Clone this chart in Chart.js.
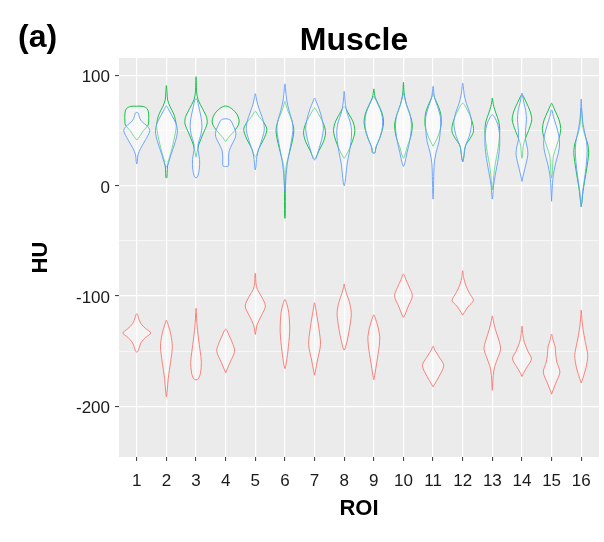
<!DOCTYPE html>
<html><head><meta charset="utf-8">
<script src="https://cdn.jsdelivr.net/npm/chart.js@4.4.1/dist/chart.umd.min.js"></script>
<style>html,body{margin:0;padding:0;background:#fff}</style>
</head>
<body>
<canvas id="c" width="604" height="542"></canvas>
<script>
// ---- DATA ----
const roiValues = [1,2,3,4,5,6,7,8,9,10,11,12,13,14,15,16];
const yTickValues = [-200,-150,-100,-50,0,50,100];
const yLabelledTicks = [-200,-100,0,100];
const seriesNames = ['Series 1','Series 2','Series 3'];

// Each violin profile: [HU, half-width in ROI units], from bottom to top
const redViolins = [
  [[-151,0],[-150,0.04],[-147,0.08],[-142,0.15],[-137.5,0.3],[-133.5,0.47],[-129.5,0.3],[-125,0.14],[-120,0.06],[-117,0.03],[-116,0]],
  [[-191.5,0],[-188,0.02],[-175,0.06],[-160,0.14],[-146,0.2],[-135,0.15],[-127,0.07],[-123,0.02],[-121.8,0]],
  [[-176,0],[-175,0.08],[-170,0.15],[-160,0.18],[-150,0.14],[-138,0.08],[-125,0.03],[-115,0.01],[-111,0]],
  [[-169.7,0],[-167,0.04],[-160,0.15],[-150,0.3],[-142,0.22],[-136,0.12],[-131,0.04],[-130,0]],
  [[-134.8,0],[-132,0.02],[-126,0.06],[-118,0.2],[-109,0.34],[-100,0.2],[-94,0.07],[-88,0.02],[-80,0.01],[-79.4,0]],
  [[-165.8,0],[-163,0.03],[-150,0.1],[-132,0.16],[-115,0.13],[-107,0.06],[-103,0]],
  [[-171.8,0],[-168,0.03],[-158,0.1],[-144,0.2],[-130,0.15],[-118,0.08],[-110,0.03],[-106,0]],
  [[-149,0],[-147,0.04],[-138,0.12],[-126,0.2],[-115,0.24],[-105,0.17],[-97,0.07],[-92,0.02],[-89,0]],
  [[-175.8,0],[-172,0.03],[-160,0.1],[-146,0.18],[-137,0.2],[-128,0.14],[-120,0.05],[-117,0]],
  [[-119.4,0],[-117,0.05],[-110,0.15],[-100,0.3],[-92,0.2],[-85,0.08],[-81,0.03],[-80,0]],
  [[-182.4,0],[-180,0.05],[-173,0.2],[-163,0.36],[-155,0.2],[-149,0.06],[-145.5,0]],
  [[-117.3,0],[-115,0.05],[-109,0.2],[-104,0.36],[-97,0.22],[-90,0.1],[-83,0.03],[-77,0]],
  [[-185.5,0],[-182,0.01],[-172,0.03],[-164,0.08],[-155,0.2],[-148,0.28],[-140,0.22],[-130,0.1],[-122,0.03],[-118,0]],
  [[-173,0],[-170,0.05],[-164,0.18],[-157,0.32],[-150,0.2],[-142,0.08],[-135,0.03],[-127.3,0]],
  [[-189,0],[-186,0.04],[-179,0.14],[-169,0.28],[-160,0.18],[-153,0.14],[-146,0.12],[-140,0.05],[-134.5,0]],
  [[-178.8,0],[-175,0.05],[-165,0.16],[-154,0.22],[-142,0.14],[-130,0.06],[-120,0.02],[-112.7,0]]
];
const greenViolins = [
  [[41.5,0],[45,0.1],[50,0.22],[55,0.38],[58,0.4],[66,0.4],[70,0.35],[72,0.22],[72.3,0]],
  [[7,0],[8,0.02],[15,0.03],[22,0.06],[30,0.15],[45,0.28],[55,0.33],[65,0.25],[72,0.12],[78,0.04],[85,0.02],[91,0]],
  [[26,0],[30,0.03],[38,0.1],[48,0.25],[56,0.37],[62,0.36],[70,0.22],[78,0.07],[85,0.02],[99,0]],
  [[40,0],[44,0.1],[50,0.3],[56,0.44],[60,0.45],[65,0.38],[69,0.25],[71.5,0.12],[72.5,0]],
  [[26.5,0],[28,0.05],[33,0.1],[42,0.28],[51,0.39],[57,0.3],[63,0.12],[67,0.03],[67.6,0]],
  [[-29.5,0],[-28,0.01],[0,0.015],[15,0.03],[22,0.07],[35,0.2],[50,0.3],[60,0.22],[68,0.1],[74,0.03],[76.7,0]],
  [[24,0],[26,0.05],[32,0.15],[40,0.3],[48,0.37],[55,0.32],[63,0.18],[68,0.07],[70.6,0]],
  [[25,0],[27,0.05],[35,0.2],[45,0.33],[51,0.36],[58,0.3],[65,0.16],[70,0.06],[72,0]],
  [[29.7,0],[31,0.05],[36,0.08],[42,0.18],[50,0.28],[58,0.33],[66,0.28],[74,0.15],[80,0.05],[84,0.02],[88,0]],
  [[25,0],[27,0.04],[35,0.12],[45,0.25],[55,0.3],[62,0.25],[70,0.14],[78,0.06],[85,0.02],[94,0]],
  [[36,0],[40,0.08],[46,0.18],[55,0.27],[65,0.26],[72,0.18],[78,0.08],[82,0.02],[84,0]],
  [[22,0],[25,0.03],[32,0.06],[37,0.1],[43,0.25],[49,0.36],[55,0.35],[62,0.27],[69,0.15],[73,0.07],[75,0]],
  [[-3.6,0],[0,0.02],[10,0.05],[20,0.1],[35,0.2],[50,0.25],[58,0.22],[66,0.12],[72,0.05],[76,0.02],[79.7,0]],
  [[25,0],[28,0.02],[36,0.04],[42,0.1],[50,0.22],[60,0.33],[68,0.27],[76,0.14],[81,0.05],[82.7,0]],
  [[7,0],[10,0.02],[20,0.04],[27,0.06],[35,0.15],[45,0.27],[52,0.31],[60,0.25],[68,0.12],[73,0.04],[75,0]],
  [[-18.8,0],[-15,0.02],[-5,0.06],[10,0.15],[22,0.22],[30,0.25],[38,0.22],[46,0.12],[55,0.04],[65,0.02],[70.6,0]]
];
const blueViolins = [
  [[20,0],[22,0.02],[28,0.04],[34,0.13],[42,0.3],[50,0.44],[54,0.36],[59,0.15],[63,0.08],[66,0.05],[66.7,0]],
  [[17,0],[19,0.05],[28,0.15],[40,0.3],[49,0.37],[56,0.33],[63,0.2],[69,0.08],[72.5,0]],
  [[7,0],[9,0.06],[15,0.11],[24,0.12],[32,0.07],[38,0.07],[46,0.16],[54,0.2],[62,0.17],[72,0.09],[78,0.04],[79,0]],
  [[17.6,0],[17.8,0.08],[19,0.1],[26,0.1],[32,0.12],[38,0.22],[45,0.34],[50,0.33],[55,0.25],[59,0.18],[60.5,0.1],[60.8,0]],
  [[14.5,0],[17,0.02],[24,0.04],[30,0.08],[40,0.2],[50,0.3],[58,0.28],[66,0.18],[74,0.08],[80,0.03],[83.6,0]],
  [[-5,0],[0,0.02],[10,0.04],[20,0.08],[35,0.18],[50,0.27],[58,0.25],[68,0.14],[78,0.06],[88,0.02],[92.5,0]],
  [[23.5,0],[25,0.05],[32,0.13],[42,0.24],[52,0.3],[60,0.26],[70,0.15],[76,0.06],[79.7,0]],
  [[0,0],[3,0.03],[10,0.06],[20,0.1],[30,0.17],[40,0.23],[50,0.25],[58,0.2],[66,0.1],[74,0.04],[80,0.02],[85.8,0]],
  [[29.7,0],[30,0.05],[34,0.06],[40,0.15],[50,0.27],[58,0.3],[66,0.26],[74,0.14],[79,0.05],[81.2,0]],
  [[17.6,0],[20,0.04],[30,0.12],[42,0.22],[55,0.27],[65,0.22],[74,0.1],[80,0.04],[84.2,0]],
  [[-12,0],[-8,0.01],[5,0.02],[20,0.04],[30,0.1],[40,0.2],[52,0.25],[62,0.25],[72,0.15],[80,0.05],[86,0.02],[90.3,0]],
  [[22,0],[25,0.03],[32,0.06],[37,0.1],[45,0.22],[57,0.3],[66,0.24],[75,0.12],[83,0.05],[90,0.02],[93.3,0]],
  [[-12,0],[-8,0.02],[0,0.04],[10,0.1],[25,0.2],[38,0.25],[48,0.24],[56,0.18],[62,0.08],[64.5,0]],
  [[4,0],[8,0.03],[16,0.1],[25,0.18],[30,0.2],[36,0.17],[42,0.12],[50,0.12],[60,0.15],[68,0.13],[76,0.06],[82,0.02],[84.2,0]],
  [[-14,0],[-8,0.01],[2,0.03],[10,0.06],[20,0.13],[30,0.23],[38,0.27],[46,0.24],[55,0.15],[63,0.06],[68,0.02],[69,0]],
  [[-18.8,0],[-15,0.02],[-5,0.05],[10,0.13],[22,0.18],[32,0.2],[40,0.18],[48,0.12],[58,0.05],[68,0.02],[78.8,0]]
];

// ---- STYLE ----
const seriesColors = ['#F8766D','#00BA38','#619CFF'];
const FONT = '"Liberation Sans", Arial, Helvetica, sans-serif';

function violinPoints(center, profile) {
  const right = profile.map(p => ({x: center + p[1], y: p[0]}));
  const left = profile.slice(0, -1).reverse().map(p => ({x: center - p[1], y: p[0]}));
  return right.concat(left);
}

const datasets = [];
const groups = [blueViolins, greenViolins, redViolins];
const groupColors = [seriesColors[2], seriesColors[1], seriesColors[0]];
const groupNames = [seriesNames[2], seriesNames[1], seriesNames[0]];
groups.forEach((g, gi) => {
  g.forEach((profile, i) => {
    datasets.push({
      label: groupNames[gi] + ' ROI ' + roiValues[i],
      data: violinPoints(roiValues[i], profile),
      showLine: true,
      borderColor: groupColors[gi],
      borderWidth: 0.9,
      backgroundColor: 'rgba(255,255,255,0.42)',
      fill: 'shape',
      tension: 0.3,
      pointRadius: 0,
      pointHoverRadius: 0
    });
  });
});

const decor = {
  id: 'decor',
  beforeDraw(chart) {
    const {ctx, chartArea: a} = chart;
    ctx.save();
    ctx.fillStyle = '#EBEBEB';
    ctx.fillRect(a.left, a.top, a.right - a.left, a.bottom - a.top);
    ctx.restore();
  },
  afterDraw(chart) {
    const ctx = chart.ctx;
    ctx.save();
    ctx.fillStyle = '#000';
    ctx.textBaseline = 'alphabetic';
    ctx.font = 'bold 32px ' + FONT;
    ctx.textAlign = 'left';
    ctx.fillText('(a)', 18, 47);
    ctx.textAlign = 'center';
    ctx.fillText('Muscle', 354, 50);
    ctx.restore();
  }
};

new Chart(document.getElementById('c'), {
  type: 'scatter',
  data: {datasets},
  options: {
    responsive: false,
    animation: false,
    events: [],
    layout: {padding: {left: 28, top: 58, right: 5, bottom: 20}},
    plugins: {legend: {display: false}, tooltip: {enabled: false}, title: {display: false}},
    scales: {
      x: {
        type: 'linear', min: 0.4, max: 16.6,
        afterBuildTicks: s => { s.ticks = roiValues.map(v => ({value: v})); },
        afterFit: s => { s.height = 65; },
        border: {display: false},
        grid: {color: '#FFFFFF', lineWidth: 1.2, drawTicks: true, tickLength: 4, tickColor: '#333333', tickWidth: 1},
        ticks: {autoSkip: false, maxRotation: 0, padding: 10, color: '#1a1a1a', font: {family: FONT, size: 17},
                callback: v => String(v)},
        title: {display: true, text: 'ROI', color: '#000', padding: 0, font: {family: FONT, size: 22, weight: 'bold'}}
      },
      y: {
        type: 'linear', min: -246, max: 116,
        afterBuildTicks: s => { s.ticks = yTickValues.map(v => ({value: v})); },
        afterFit: s => { s.width = 91; },
        border: {display: false},
        grid: {
          color: '#FFFFFF',
          lineWidth: c => yLabelledTicks.includes(c.tick.value) ? 1.2 : 0.6,
          drawTicks: true, tickLength: 4, tickWidth: 1,
          tickColor: c => yLabelledTicks.includes(c.tick.value) ? '#333333' : 'rgba(0,0,0,0)'
        },
        ticks: {padding: 5, labelOffset: 2, color: '#1a1a1a', font: {family: FONT, size: 17},
                callback: v => yLabelledTicks.includes(v) ? String(v) : ''},
        title: {display: true, text: 'HU', color: '#000', padding: 0, font: {family: FONT, size: 22, weight: 'bold'}}
      }
    }
  },
  plugins: [decor]
});
</script>
</body></html>
